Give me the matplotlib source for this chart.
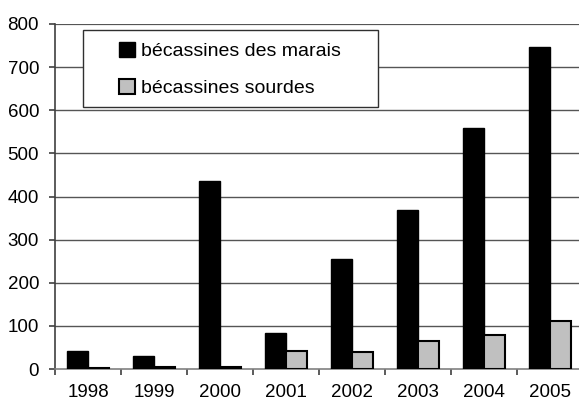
import matplotlib
matplotlib.use("Agg")
import matplotlib.pyplot as plt
from matplotlib.patches import Rectangle
import numpy as np

years = ["1998", "1999", "2000", "2001", "2002", "2003", "2004", "2005"]
marais = [42, 31, 437, 83, 255, 368, 560, 746]
sourdes = [3, 4, 4, 42, 40, 66, 79, 111]
yticks = [0, 100, 200, 300, 400, 500, 600, 700, 800]

plt.rcParams['font.family'] = ['Liberation Sans', 'DejaVu Sans']

W, H = 579, 407
fig = plt.figure(figsize=(W/100, H/100), dpi=100)
x0, x1 = 55, 583
y0, y1 = 369, 24
ax = fig.add_axes([x0/W, 1 - y0/H, (x1-x0)/W, (y0-y1)/H])

x = np.arange(len(years))
bw = 0.32
ax.bar(x - bw/2, marais, bw, color='black', edgecolor='black', linewidth=1, zorder=3,
       label='bécassines des marais')
ax.bar(x + bw/2, sourdes, bw, color='#c0c0c0', edgecolor='black', linewidth=1.5, zorder=3,
       label='bécassines sourdes')

ax.set_xlim(-0.5, len(years) - 0.5)
ax.set_ylim(0, 800)
ax.set_yticks(yticks)
ax.set_yticklabels([str(v) for v in yticks], fontsize=13.5)
ax.set_xticks(x)
ax.set_xticklabels(years, fontsize=13.5)
ax.set_xticks(np.arange(-0.5, len(years) + 0.5, 1), minor=True)
ax.tick_params(axis='x', which='major', length=0, pad=11)
ax.tick_params(axis='x', which='minor', length=4.5, width=1.2, direction='out', color='#404040')
ax.tick_params(axis='y', length=4.5, width=1.2, direction='out', color='#404040', pad=7)

for v in yticks[1:]:
    ax.axhline(v, color='#555555', linewidth=1.0 if v < 800 else 1.6, zorder=1)

for s in ['top', 'right']:
    ax.spines[s].set_visible(False)
ax.spines['left'].set_color('#404040')
ax.spines['left'].set_linewidth(1.2)
ax.spines['bottom'].set_color('#808080')
ax.spines['bottom'].set_linewidth(1.2)

# legend frame
fig.patches.append(Rectangle((83/W, 1 - 107/H), (378-83)/W, (107-30)/H,
                             transform=fig.transFigure, facecolor='white',
                             edgecolor='#303030', linewidth=1.0, zorder=4))
fs = 14
leg = fig.legend(loc='upper left', bbox_to_anchor=(119/W, 1 - 42/H),
                 fontsize=fs, frameon=False,
                 borderpad=0, handlelength=0.82, handleheight=0.8, handletextpad=0.3,
                 labelspacing=0.95, borderaxespad=0)
leg.set_zorder(6)

fig.savefig("out.png", dpi=100)
